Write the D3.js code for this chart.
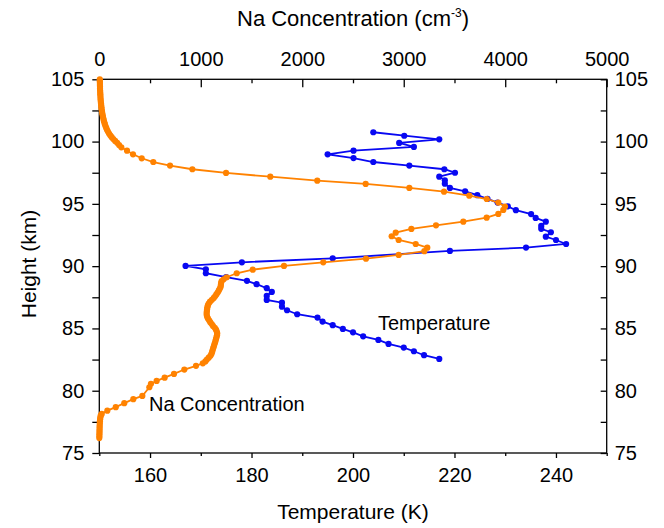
<!DOCTYPE html>
<html>
<head>
<meta charset="utf-8">
<script src="https://d3js.org/d3.v7.min.js"></script>
<style>
body { margin: 0; background: white; }
svg text { font-family: "Liberation Sans", Arial, Helvetica, sans-serif; fill: black; }
.axis line, .axis path { stroke: black; stroke-width: 1.3; }
</style>
</head>
<body>
<svg id="chart" width="664" height="528"></svg>
<script>
// Na concentration profile (height in km, density in cm^-3)
var naHeight = [105.0, 104.85, 104.7, 104.55, 104.4, 104.25, 104.1, 103.95, 103.8, 103.65,
  103.5, 103.35, 103.2, 103.05, 102.9, 102.75, 102.6, 102.45, 102.3, 102.15,
  102.0, 101.85, 101.7, 101.55, 101.4, 101.25, 101.1, 100.95, 100.8, 100.65,
  100.5, 100.35, 100.2, 100.05, 99.9, 99.72,
  99.54, 99.27, 98.98, 98.66, 98.36, 98.07, 97.78, 97.48, 97.18, 96.86,
  96.6, 96.28, 95.98, 95.66, 95.39, 95.1, 94.78, 94.51, 94.19, 93.89,
  93.57, 93.28, 92.99, 92.69, 92.4, 92.1, 91.78, 91.48, 91.2, 90.9,
  90.6, 90.31, 90.02, 89.72, 89.43, 89.11,
  88.95, 88.8, 88.65, 88.5, 88.35, 88.2, 88.05, 87.9, 87.75, 87.6,
  87.45, 87.3, 87.15, 87.0, 86.85, 86.7, 86.55, 86.4, 86.25, 86.1,
  85.95, 85.8, 85.65, 85.5, 85.35, 85.2, 85.05, 84.9, 84.75, 84.6,
  84.45, 84.3, 84.15, 84.0, 83.85, 83.7, 83.55, 83.4, 83.25, 83.1,
  82.95, 82.8, 82.65, 82.5, 82.35, 82.2, 82.0, 81.7, 81.35, 81.05,
  80.79, 80.55, 80.28, 79.58, 79.32, 79.0, 78.68, 78.4, 78.14, 78.0,
  77.85, 77.7, 77.55, 77.4, 77.25, 77.1, 76.95, 76.8, 76.65, 76.5,
  76.35, 76.2];
var naConc = [5, 5, 6, 6, 7, 7, 8, 9, 10, 11,
  12, 13, 15, 17, 19, 21, 23, 26, 29, 32,
  36, 40, 44, 49, 55, 61, 68, 76, 85, 96,
  108, 122, 138, 156, 176, 195,
  217, 273, 332, 418, 532, 697, 917, 1249, 1685, 2148,
  2625, 3055, 3397, 3646, 3818, 3932, 3998, 3981, 3932, 3817,
  3587, 3318, 3075, 2921, 2881, 2950, 3118, 3232, 3203, 2950,
  2628, 2207, 1820, 1512, 1354, 1255,
  1225, 1206, 1200, 1198, 1196, 1188, 1178, 1168, 1155, 1143,
  1128, 1110, 1091, 1078, 1070, 1065, 1062, 1060, 1058, 1058,
  1062, 1070, 1082, 1093, 1108, 1120, 1138, 1150, 1158, 1162,
  1160, 1155, 1150, 1145, 1140, 1133, 1128, 1122, 1116, 1112,
  1105, 1095, 1078, 1060, 1045, 1020, 953, 838, 736, 644,
  565, 509, 493, 424, 335, 246, 162, 79, 24, 14,
  10, 8, 6, 5, 4, 3, 3, 2, 2, 1,
  1, 0];

// Temperature profile (height in km, temperature in K)
var tempHeight = [100.75, 100.47, 100.18, 99.89, 99.57, 99.27, 98.98, 98.68, 98.36, 98.07,
  97.78, 97.5, 97.18, 96.89, 96.62, 96.28, 96.01, 95.7, 95.4, 95.1,
  94.8, 94.49, 94.18, 93.87, 93.57, 93.23, 93.0, 92.72, 92.37, 92.1,
  91.78, 91.49, 91.22, 90.63, 90.31, 90.02, 89.75, 89.43, 89.12, 88.82,
  88.55, 88.23, 87.93, 87.61, 87.29, 87.07, 86.75, 86.46, 86.14, 85.87,
  85.55, 85.26, 84.96, 84.69, 84.37, 84.08, 83.76, 83.46, 83.17, 82.85,
  82.55];
var tempK = [204.0, 210.1, 217.0, 209.1, 212.0, 200.1, 195.0, 200.1, 204.0, 211.1,
  218.0, 220.1, 217.0, 218.1, 218.1, 219.1, 222.1, 224.5, 226.5, 228.5,
  230.5, 232.1, 235.1, 236.0, 238.0, 237.1, 237.1, 239.0, 238.0, 240.0,
  242.0, 234.1, 219.1, 196.0, 178.1, 167.0, 171.0, 171.0, 175.0, 179.1,
  181.0, 183.0, 184.0, 183.0, 183.0, 186.0, 186.0, 187.0, 189.0, 193.0,
  194.0, 196.0, 198.0, 200.0, 202.0, 205.0, 207.0, 210.0, 212.0, 214.0,
  217.0];

var heightTicks = [75, 80, 85, 90, 95, 100, 105];
var heightMinor = [77.5, 82.5, 87.5, 92.5, 97.5, 102.5];
var tempTicks = [160, 180, 200, 220, 240];
var tempMinor = [150, 170, 190, 210, 230, 250];
var naTicks = [0, 1000, 2000, 3000, 4000, 5000];
var naMinor = [500, 1500, 2500, 3500, 4500];

var pLeft = 99.3, pRight = 606.7, pTop = 79.3, pBottom = 453;
var blue = "#0808f2", orange = "#ff8200";
var svg = d3.select("#chart");

var y = d3.scaleLinear().domain([75, 105]).range([pBottom, pTop]);
var xT = d3.scaleLinear().domain([150, 250]).range([pLeft, pRight]);
var xNa = d3.scaleLinear().domain([0, 5000]).range([pLeft, pRight]);

function styleTicks(g, size) {
  g.selectAll("text").style("font-size", size + "px");
  g.select(".domain").remove();
}

// left axis
var gl = svg.append("g").attr("class", "axis").attr("transform", "translate(" + pLeft + ",0)");
gl.call(d3.axisLeft(y).tickValues(heightTicks).tickSize(7).tickPadding(8).tickSizeOuter(0));
styleTicks(gl, 20);
var glm = svg.append("g").attr("class", "axis").attr("transform", "translate(" + pLeft + ",0)");
glm.call(d3.axisLeft(y).tickValues(heightMinor).tickSize(7).tickFormat(""));
glm.select(".domain").remove();

// right axis, ticks point inward
var gr = svg.append("g").attr("class", "axis").attr("transform", "translate(" + pRight + ",0)");
gr.call(d3.axisRight(y).tickValues(heightTicks).tickSize(-6).tickPadding(8).tickSizeOuter(0));
styleTicks(gr, 20);
var grm = svg.append("g").attr("class", "axis").attr("transform", "translate(" + pRight + ",0)");
grm.call(d3.axisRight(y).tickValues(heightMinor).tickSize(-6).tickFormat(""));
grm.select(".domain").remove();

// bottom temperature axis
var gb = svg.append("g").attr("class", "axis").attr("transform", "translate(0," + pBottom + ")");
gb.call(d3.axisBottom(xT).tickValues(tempTicks).tickSize(5).tickPadding(10).tickSizeOuter(0));
styleTicks(gb, 20);
var gbm = svg.append("g").attr("class", "axis").attr("transform", "translate(0," + pBottom + ")");
gbm.call(d3.axisBottom(xT).tickValues(tempMinor).tickSize(3).tickFormat(""));
gbm.select(".domain").remove();

// top Na axis, ticks point inward
var gt = svg.append("g").attr("class", "axis").attr("transform", "translate(0," + pTop + ")");
gt.call(d3.axisTop(xNa).tickValues(naTicks).tickFormat(d3.format("d"))
  .tickSize(-8).tickPadding(13).tickSizeOuter(0));
styleTicks(gt, 20);
var gtm = svg.append("g").attr("class", "axis").attr("transform", "translate(0," + pTop + ")");
gtm.call(d3.axisTop(xNa).tickValues(naMinor).tickSize(-4).tickFormat(""));
gtm.select(".domain").remove();

// frame
svg.append("rect")
  .attr("x", pLeft).attr("y", pTop)
  .attr("width", pRight - pLeft).attr("height", pBottom - pTop)
  .attr("fill", "none").attr("stroke", "black").attr("stroke-width", 1.3);

// temperature series
var tData = tempHeight.map(function(h, i) { return {h: h, v: tempK[i]}; });
var tLine = d3.line().x(function(d) { return xT(d.v); }).y(function(d) { return y(d.h); });
svg.append("path").datum(tData)
  .attr("fill", "none").attr("stroke", blue).attr("stroke-width", 1.8)
  .attr("d", tLine);
svg.append("g").selectAll("circle").data(tData).enter().append("circle")
  .attr("cx", function(d) { return xT(d.v); })
  .attr("cy", function(d) { return y(d.h); })
  .attr("r", 3.1).attr("fill", blue);

// Na series
var nData = naHeight.map(function(h, i) { return {h: h, v: naConc[i]}; });
var nLine = d3.line().x(function(d) { return xNa(d.v); }).y(function(d) { return y(d.h); });
svg.append("path").datum(nData)
  .attr("fill", "none").attr("stroke", orange).attr("stroke-width", 1.8)
  .attr("d", nLine);
svg.append("g").selectAll("circle").data(nData).enter().append("circle")
  .attr("cx", function(d) { return xNa(d.v); })
  .attr("cy", function(d) { return y(d.h); })
  .attr("r", 3.1).attr("fill", orange);

// axis titles
var title = svg.append("text").attr("x", 353).attr("y", 26)
  .attr("text-anchor", "middle").style("font-size", "22px");
title.append("tspan").text("Na Concentration (cm");
title.append("tspan").attr("dy", -9).style("font-size", "12px").text("-3");
title.append("tspan").attr("dy", 9).text(")");

svg.append("text").attr("x", 353).attr("y", 519)
  .attr("text-anchor", "middle").style("font-size", "21px")
  .text("Temperature (K)");

svg.append("text").attr("transform", "translate(36,264) rotate(-90)")
  .attr("text-anchor", "middle").style("font-size", "21px")
  .text("Height (km)");

// in-plot labels
svg.append("text").attr("x", 378).attr("y", 330).style("font-size", "20px").text("Temperature");
svg.append("text").attr("x", 149).attr("y", 411).style("font-size", "20px").text("Na Concentration");
</script>
</body>
</html>
